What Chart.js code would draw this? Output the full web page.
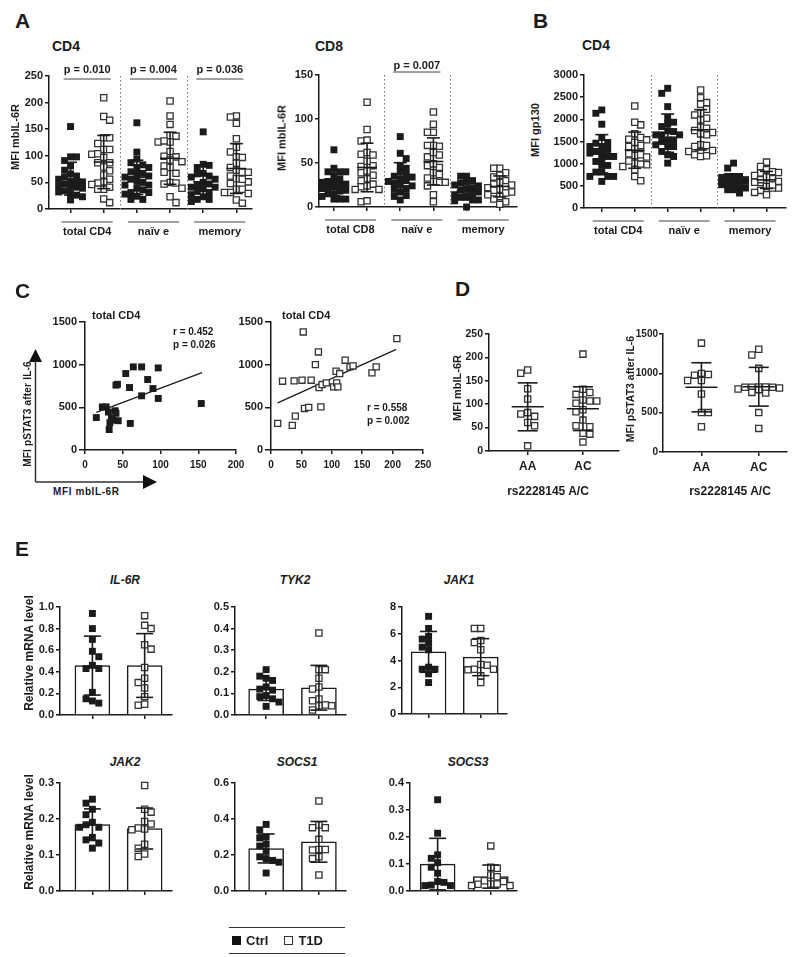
<!DOCTYPE html>
<html>
<head>
<meta charset="utf-8">
<script src="https://cdn.jsdelivr.net/npm/chart.js@4/dist/chart.umd.min.js"></script>
<style>
body { margin: 0; background: #fff; }
#fig { position: relative; width: 800px; height: 957px; overflow: hidden; font-family: "Liberation Sans", Arial, sans-serif; font-weight: bold; color: #1b1b1b; }
#fig canvas { position: absolute; }
.t { position: absolute; white-space: nowrap; line-height: 1; }
.legend { position: absolute; left: 229px; top: 927px; width: 116px; height: 25px; border-top: 1.3px solid #333; border-bottom: 1.3px solid #333; display: flex; align-items: center; font-size: 13px; }
.sq { display: inline-block; width: 9px; height: 9px; box-sizing: border-box; margin: 0 5px 0 3px; }
</style>
</head>
<body>
<div id="fig"></div>
<script>
// ---- panel A: mbIL-6R MFI on CD4 / CD8 subsets (Ctrl, T1D) ----
const cd4TotalCtrl = [155, 98, 98, 91, 81, 73, 66, 62, 60, 56, 51, 50, 47, 44, 42, 39, 34, 32, 29, 26, 23, 17, 41, 51];
const cd4TotalT1D = [209, 174, 167, 134, 134, 123, 112, 112, 103, 104, 97, 87, 87, 79, 72, 64, 56, 51, 49, 46, 37, 37, 41, 19, 12];
const cd4NaiveCtrl = [162, 107, 94, 87, 78, 78, 70, 66, 67, 62, 56, 50, 45, 45, 39, 36, 31, 31, 24, 18, 18, 52, 60, 83, 28];
const cd4NaiveT1D = [203, 175, 159, 138, 137, 126, 126, 128, 108, 99, 98, 92, 89, 81, 78, 69, 67, 50, 49, 47, 39, 23, 12];
const cd4MemCtrl = [145, 84, 82, 78, 67, 66, 62, 56, 50, 45, 41, 41, 33, 31, 23, 18, 18, 14, 47, 38, 27, 60];
const cd4MemT1D = [175, 173, 161, 132, 116, 107, 98, 97, 86, 78, 73, 69, 69, 62, 57, 51, 56, 48, 37, 37, 31, 31, 29, 17, 11];

const cd8TotalCtrl = [65, 40, 40, 40, 35, 44, 29, 28, 28, 25, 23, 21, 19, 18, 15, 15, 9, 9, 9, 32, 22, 12, 26];
const cd8TotalT1D = [119, 88, 75, 76, 60, 62, 59, 47, 46, 39, 36, 32, 26, 23, 24, 20, 20, 6, 7, 52, 30, 41];
const cd8NaiveCtrl = [80, 61, 55, 47, 44, 40, 37, 34, 32, 29, 27, 24, 21, 20, 17, 13, 12, 8, 30, 25, 35];
const cd8NaiveT1D = [108, 94, 85, 85, 69, 70, 70, 59, 57, 47, 45, 49, 39, 37, 28, 29, 28, 24, 14, 6, 62, 33];
const cd8MemCtrl = [35, 35, 30, 28, 25, 27, 22, 20, 17, 15, 14, 11, 11, 8, 8, 7, 0, 19, 24, 12];
const cd8MemT1D = [44, 44, 39, 36, 34, 30, 28, 26, 23, 22, 20, 17, 16, 12, 9, 6, 3, 19, 25, 14];

// ---- panel B: gp130 MFI on CD4 ----
const gpTotalCtrl = [2212, 2137, 1890, 1590, 1462, 1477, 1387, 1387, 1237, 1275, 1237, 1162, 1162, 1050, 960, 960, 810, 810, 712, 712, 712, 600, 1320, 1100];
const gpTotalT1D = [2302, 1875, 1935, 1672, 1590, 1552, 1537, 1387, 1410, 1335, 1185, 1222, 1200, 1012, 975, 990, 937, 862, 712, 615, 1480, 1060, 1150];
const gpNaiveCtrl = [2700, 2587, 2287, 1935, 2040, 1897, 1837, 1725, 1740, 1650, 1650, 1650, 1500, 1537, 1537, 1425, 1387, 1387, 1275, 1200, 1162, 1012];
const gpNaiveT1D = [2662, 2490, 2377, 2340, 2227, 2137, 2100, 2025, 1987, 1822, 1800, 1747, 1702, 1650, 1672, 1425, 1410, 1387, 1297, 1275, 1275, 1200, 1162, 1177];
const gpMemCtrl = [1012, 900, 712, 712, 712, 637, 600, 600, 525, 525, 487, 450, 412, 412, 337, 560, 640, 690, 480, 580, 540, 620];
const gpMemT1D = [1035, 937, 862, 802, 787, 735, 712, 660, 600, 577, 547, 487, 450, 450, 397, 352, 300, 640, 700, 520, 820, 580];

// ---- panel C: mbIL-6R vs pSTAT3 ----
const c1X = [15, 23, 28, 31, 40, 35, 33, 32, 37, 44, 41, 41, 43, 54, 59, 64, 75, 75, 83, 90, 97, 97, 60, 154];
const c1Y = [380, 505, 505, 445, 460, 370, 320, 240, 350, 343, 430, 760, 770, 896, 732, 974, 974, 635, 826, 720, 962, 604, 311, 545];
const c1FitX = [15, 155];
const c1FitY = [440, 908];
const c2X = [11, 19, 35, 40, 38, 51, 53, 55, 62, 66, 73, 78, 82, 79, 84, 91, 103, 107, 108, 110, 113, 122, 130, 135, 166, 173, 207];
const c2Y = [312, 806, 288, 397, 810, 818, 1383, 487, 499, 818, 1001, 1149, 506, 732, 767, 787, 740, 923, 787, 740, 896, 1052, 974, 985, 904, 974, 1305];
const c2FitX = [11, 206];
const c2FitY = [553, 1180];

// ---- panel D: by rs2228145 genotype ----
const genotypes = ['AA', 'AC'];
const dIl6rAA = [173, 166, 133, 111, 82, 74, 79, 61, 54, 11];
const dIl6rAC = [207, 132, 121, 125, 109, 107, 107, 102, 84, 88, 66, 52, 54, 38, 36, 19];
const dStatAA = [1384, 986, 999, 977, 909, 909, 737, 501, 501, 321];
const dStatAC = [1307, 1234, 1063, 827, 801, 823, 823, 823, 750, 758, 793, 814, 827, 501, 300];

// ---- panel E: relative mRNA levels ----
const il6rCtrl = [0.94, 0.80, 0.70, 0.59, 0.54, 0.46, 0.43, 0.43, 0.21, 0.15, 0.11, 0.13];
const il6rT1D = [0.92, 0.80, 0.83, 0.65, 0.61, 0.44, 0.34, 0.30, 0.25, 0.17, 0.09, 0.10];
const tyk2Ctrl = [0.21, 0.18, 0.17, 0.16, 0.13, 0.12, 0.115, 0.09, 0.085, 0.075, 0.06, 0.04];
const tyk2T1D = [0.38, 0.21, 0.21, 0.17, 0.13, 0.12, 0.074, 0.066, 0.046, 0.043, 0.023, 0.043];
const jak1Ctrl = [7.3, 6.4, 5.8, 5.6, 5.3, 5.0, 4.8, 3.5, 3.35, 3.35, 3.0, 2.35];
const jak1T1D = [6.4, 6.4, 5.35, 5.5, 4.8, 3.65, 3.7, 3.35, 3.35, 3.3, 2.85, 2.35];
const jak2Ctrl = [0.255, 0.244, 0.227, 0.212, 0.191, 0.184, 0.177, 0.177, 0.149, 0.142, 0.133, 0.119];
const jak2T1D = [0.293, 0.219, 0.227, 0.193, 0.186, 0.175, 0.172, 0.17, 0.13, 0.119, 0.103, 0.096];
const socs1Ctrl = [0.37, 0.34, 0.30, 0.295, 0.26, 0.25, 0.22, 0.19, 0.18, 0.17, 0.16, 0.10];
const socs1T1D = [0.50, 0.367, 0.352, 0.352, 0.287, 0.231, 0.228, 0.231, 0.19, 0.18, 0.089];
const socs3Ctrl = [0.338, 0.214, 0.134, 0.121, 0.105, 0.088, 0.066, 0.032, 0.035, 0.022, 0.02, 0.02];
const socs3T1D = [0.167, 0.084, 0.088, 0.059, 0.053, 0.035, 0.038, 0.026, 0.02, 0.025, 0.026, 0.02];

const subsetsCD4 = ['total CD4', 'naïv e', 'memory'];
const subsetsCD8 = ['total CD8', 'naïv e', 'memory'];
const pCD4 = ['p = 0.010', 'p = 0.004', 'p = 0.036'];
const pCD8 = ['p = 0.007'];

const INK = '#1b1b1b';
const FONT = '"Liberation Sans", Arial, sans-serif';
Chart.defaults.font.family = FONT;
Chart.defaults.font.weight = 'bold';
Chart.defaults.color = INK;

const fig = document.getElementById('fig');

function mean(a) { return a.reduce((s, v) => s + v, 0) / a.length; }
function sd(a) {
    const m = mean(a);
    return Math.sqrt(a.reduce((s, v) => s + (v - m) * (v - m), 0) / (a.length - 1));
}

// small beeswarm: points at similar heights sit side by side, max K columns each way
function swarm(vals, at, g, size, K) {
    const kx = (g.right - g.axis) / (g.xmax - g.xmin);
    const ky = (g.bottom - g.top) / g.ymax;
    const order = vals.map((v, i) => i).sort((a, b) => vals[b] - vals[a]);
    const placed = [], out = [];
    order.forEach((i, n) => {
        const py = vals[i] * ky, sgn = n % 2 ? -1 : 1;
        let best = 0, bestHits = Infinity;
        search:
        for (let k = 0; k <= K; k++) {
            for (const d of [k * size * sgn, -k * size * sgn]) {
                const hits = placed.filter(p => Math.abs(p.dx - d) < size && Math.abs(p.py - py) < size).length;
                if (hits < bestHits) { bestHits = hits; best = d; }
                if (hits === 0) break search;
            }
        }
        placed.push({ dx: best, py });
        out[i] = { x: at + best / kx, y: vals[i] };
    });
    return out;
}

function dots(vals, at, g, open, stat, spread) {
    const sp = spread || [6, 2];
    return {
        type: 'scatter',
        order: 1,
        clip: false,
        data: swarm(vals, at, g, sp[0], sp[1]),
        pointStyle: 'rect',
        pointRadius: open ? 4.4 : 4.9,
        backgroundColor: open ? '#fff' : INK,
        borderColor: open ? '#333' : INK,
        borderWidth: open ? 1.3 : 0,
        summary: stat ? { vals, at, mw: stat[0], cw: stat[1] } : null
    };
}

function bars(ctrl, t1d) {
    return {
        type: 'bar',
        order: 2,
        data: [{ x: 1, y: mean(ctrl) }, { x: 2, y: mean(t1d) }],
        barThickness: 35,
        backgroundColor: '#fff',
        borderColor: INK,
        borderWidth: 1.5
    };
}

function makeExtras(o) {
    return {
        id: 'extras',
        afterDatasetsDraw(chart) {
            const { ctx, chartArea: a } = chart, x = chart.scales.x, y = chart.scales.y;
            const seg = (x1, y1, x2, y2) => { ctx.beginPath(); ctx.moveTo(x1, y1); ctx.lineTo(x2, y2); ctx.stroke(); };
            ctx.save();
            ctx.lineWidth = 1;
            ctx.strokeStyle = '#777';
            ctx.setLineDash([1.5, 2.5]);
            (o.seps || []).forEach(v => {
                const px = Math.round(x.getPixelForValue(v)) + 0.5;
                seg(px, a.top, px, a.bottom);
            });
            ctx.setLineDash([]);
            ctx.strokeStyle = INK;
            ctx.fillStyle = INK;
            ctx.lineWidth = 1.6;
            chart.data.datasets.forEach(ds => {
                const s = ds.summary;
                if (!s) return;
                const m = mean(s.vals), d = sd(s.vals);
                const cx = x.getPixelForValue(s.at);
                const ym = y.getPixelForValue(m), yt = y.getPixelForValue(m + d), yb = y.getPixelForValue(Math.max(0, m - d));
                seg(cx, yt, cx, yb);
                seg(cx - s.cw / 2, yt, cx + s.cw / 2, yt);
                seg(cx - s.cw / 2, yb, cx + s.cw / 2, yb);
                if (s.mw) seg(cx - s.mw / 2, ym, cx + s.mw / 2, ym);
            });
            ctx.font = 'bold 11px ' + FONT;
            ctx.textAlign = 'center';
            ctx.textBaseline = 'middle';
            ctx.lineWidth = 1.2;
            ctx.strokeStyle = '#444';
            (o.pvals || []).forEach(([p, q, t]) => {
                const ly = a.top + o.pLine, x1 = x.getPixelForValue(p) - 7, x2 = x.getPixelForValue(q) + 7;
                seg(x1, ly, x2, ly);
                ctx.fillText(t, (x1 + x2) / 2, ly + o.pText);
            });
            (o.groups || []).forEach(([p, q, t]) => {
                const ly = a.bottom + 13, x1 = x.getPixelForValue(p) - 9, x2 = x.getPixelForValue(q) + 9;
                seg(x1, ly, x2, ly);
                ctx.fillText(t, (x1 + x2) / 2, a.bottom + 23);
            });
            ctx.restore();
        }
    };
}

function addChart(g, s) {
    const W = s.W || 40, H = s.H || 10, pt = s.padTop || 8, pr = s.padRight || 4;
    const cv = document.createElement('canvas');
    const w = g.right - g.axis + W + pr, h = g.bottom - g.top + pt + H;
    cv.width = w;
    cv.height = h;
    cv.style.left = (g.axis - W) + 'px';
    cv.style.top = (g.top - pt) + 'px';
    cv.style.width = w + 'px';
    cv.style.height = h + 'px';
    fig.appendChild(cv);
    const fix = n => sc => {
        if (sc.isHorizontal()) sc.height = n; else sc.width = n;
        sc.paddingLeft = sc.paddingRight = sc.paddingTop = sc.paddingBottom = 0;
    };
    const border = { color: INK, width: 1.5 };
    const xOpts = {
        type: 'linear', min: g.xmin, max: g.xmax, offset: false,
        afterFit: fix(H), border,
        grid: { drawOnChartArea: false, offset: false, color: INK, lineWidth: 1.5, tickLength: s.xtl || 4 },
        ticks: {
            stepSize: s.xstep, padding: s.xpad || 3, maxRotation: 0, autoSkip: false,
            font: { size: s.xsize || 10, weight: 'bold' }, color: INK,
            callback: s.xfmt || (v => v)
        }
    };
    if (s.xticks) xOpts.afterBuildTicks = sc => { sc.ticks = s.xticks.map(v => ({ value: v })); };
    new Chart(cv, {
        type: s.type || 'scatter',
        data: { datasets: s.datasets },
        options: {
            responsive: false, animation: false, devicePixelRatio: 1, events: [],
            layout: { padding: { top: pt, right: pr, left: 0, bottom: 0 } },
            plugins: { legend: { display: false }, tooltip: { enabled: false } },
            scales: {
                x: xOpts,
                y: {
                    min: 0, max: g.ymax,
                    afterFit: fix(W), border,
                    grid: { drawOnChartArea: false, color: INK, lineWidth: 1.5, tickLength: s.ytl || 4 },
                    ticks: {
                        stepSize: s.ystep, padding: s.ypad || 2,
                        font: { size: s.ysize || 11, weight: 'bold' }, color: INK,
                        callback: s.yfmt || (v => v)
                    }
                }
            }
        },
        plugins: [makeExtras(s.extras || {})]
    });
}

function text(str, x, y, size, o = {}) {
    const d = document.createElement('div');
    d.className = 't';
    d.textContent = str;
    d.style.left = x + 'px';
    d.style.top = y + 'px';
    d.style.fontSize = size + 'px';
    if (o.italic) d.style.fontStyle = 'italic';
    if (o.ls) d.style.letterSpacing = o.ls + 'px';
    const ax = o.rotate || o.center ? '-50%' : '0';
    d.style.transform = 'translate(' + ax + ',-50%)' + (o.rotate ? ' rotate(-90deg)' : '');
    fig.appendChild(d);
}

// ---------- panel A / B ----------
const groupsOf = labels => labels.map((t, i) => [2 * i + 1, 2 * i + 2, t]);
function sixGroups(g, sets) {
    return sets.map((v, i) => dots(v, i + 1, g, i % 2 === 1, [20, 13], [6, 2]));
}

const gCD4 = { axis: 49, right: 253, top: 76, bottom: 209, xmin: 0.35, xmax: 6.45, ymax: 250 };
addChart(gCD4, {
    W: 40, H: 40, padTop: 18, ystep: 50, xticks: [1, 2, 3, 4, 5, 6], xfmt: () => '',
    datasets: sixGroups(gCD4, [cd4TotalCtrl, cd4TotalT1D, cd4NaiveCtrl, cd4NaiveT1D, cd4MemCtrl, cd4MemT1D]),
    extras: { seps: [2.5, 4.5], groups: groupsOf(subsetsCD4), pvals: pCD4.map((t, i) => [2 * i + 1, 2 * i + 2, t]), pLine: 3, pText: -9 }
});

const gCD8 = { axis: 319, right: 518, top: 75, bottom: 207, xmin: 0.55, xmax: 6.5, ymax: 150 };
addChart(gCD8, {
    W: 40, H: 40, padTop: 18, ystep: 50, xticks: [1, 2, 3, 4, 5, 6], xfmt: () => '',
    datasets: sixGroups(gCD8, [cd8TotalCtrl, cd8TotalT1D, cd8NaiveCtrl, cd8NaiveT1D, cd8MemCtrl, cd8MemT1D]),
    extras: { seps: [2.5, 4.5], groups: groupsOf(subsetsCD8), pvals: [[3, 4, pCD8[0]]], pLine: -3, pText: -6 }
});

const gGp = { axis: 584, right: 787, top: 75, bottom: 208, xmin: 0.46, xmax: 6.57, ymax: 3000 };
addChart(gGp, {
    W: 40, H: 40, padTop: 10, ystep: 500, xticks: [1, 2, 3, 4, 5, 6], xfmt: () => '',
    datasets: sixGroups(gGp, [gpTotalCtrl, gpTotalT1D, gpNaiveCtrl, gpNaiveT1D, gpMemCtrl, gpMemT1D]),
    extras: { seps: [2.5, 4.5], groups: groupsOf(subsetsCD4) }
});

// ---------- panel C ----------
function fitLine(xs, ys) {
    return { type: 'line', data: xs.map((v, i) => ({ x: v, y: ys[i] })), borderColor: INK, borderWidth: 1.3, pointRadius: 0, fill: false };
}
function pts(xs, ys, open) {
    return {
        type: 'scatter',
        clip: false,
        data: xs.map((v, i) => ({ x: v, y: ys[i] })),
        pointStyle: 'rect',
        pointRadius: open ? 4.3 : 4.9,
        backgroundColor: open ? '#fff' : INK,
        borderColor: open ? '#333' : INK,
        borderWidth: open ? 1.3 : 0
    };
}
const gC1 = { axis: 85, right: 236, top: 322, bottom: 450, xmin: 0, xmax: 200, ymax: 1500 };
addChart(gC1, {
    W: 36, H: 24, padTop: 8, padRight: 12, xstep: 50, ystep: 500, ytl: 6, xpad: 5,
    datasets: [pts(c1X, c1Y, false), fitLine(c1FitX, c1FitY)]
});
const gC2 = { axis: 271, right: 423, top: 322, bottom: 450, xmin: 0, xmax: 250, ymax: 1500 };
addChart(gC2, {
    W: 36, H: 24, padTop: 8, padRight: 12, xstep: 50, ystep: 500, ytl: 6, xpad: 5,
    datasets: [pts(c2X, c2Y, true), fitLine(c2FitX, c2FitY)]
});

// ---------- panel D ----------
const gD1 = { axis: 489, right: 620, top: 334, bottom: 451, xmin: 0.3, xmax: 2.64, ymax: 250 };
addChart(gD1, {
    W: 40, H: 24, ystep: 50, xticks: [1, 2], xfmt: v => genotypes[v - 1], xsize: 12, xpad: 4, ysize: 10.5,
    datasets: [dots(dIl6rAA, 1, gD1, true, [32, 20], [7, 2]), dots(dIl6rAC, 2, gD1, true, [32, 20], [7, 2])]
});
const gD2 = { axis: 663, right: 788, top: 334, bottom: 452, xmin: 0.33, xmax: 2.48, ymax: 1500 };
addChart(gD2, {
    W: 40, H: 24, ystep: 500, xticks: [1, 2], xfmt: v => genotypes[v - 1], xsize: 12, xpad: 4, ysize: 10, ypad: 1,
    datasets: [dots(dStatAA, 1, gD2, true, [32, 20], [7, 2]), dots(dStatAC, 2, gD2, true, [32, 20], [7, 3])]
});

// ---------- panel E ----------
function mrna(g, ctrl, t1d, step, fmt) {
    addChart(g, {
        type: 'bar', W: 36, H: 10, ystep: step, xticks: [1, 2], xfmt: () => '',
        yfmt: fmt,
        datasets: [bars(ctrl, t1d), dots(ctrl, 1, g, false, [0, 17], [6.5, 2]), dots(t1d, 2, g, true, [0, 17], [6.5, 3])]
    });
}
const f1 = v => v.toFixed(1);
mrna({ axis: 60, right: 173, top: 607, bottom: 715, xmin: 0.38, xmax: 2.51, ymax: 1.0 }, il6rCtrl, il6rT1D, 0.2, f1);
mrna({ axis: 235, right: 347, top: 607, bottom: 715, xmin: 0.41, xmax: 2.5, ymax: 0.5 }, tyk2Ctrl, tyk2T1D, 0.1, f1);
mrna({ axis: 402, right: 508, top: 607, bottom: 714, xmin: 0.49, xmax: 2.49, ymax: 8 }, jak1Ctrl, jak1T1D, 2, v => v);
mrna({ axis: 60, right: 173, top: 783, bottom: 891, xmin: 0.38, xmax: 2.51, ymax: 0.3 }, jak2Ctrl, jak2T1D, 0.1, f1);
mrna({ axis: 235, right: 347, top: 783, bottom: 891, xmin: 0.41, xmax: 2.5, ymax: 0.6 }, socs1Ctrl, socs1T1D, 0.2, f1);
mrna({ axis: 410, right: 518, top: 783, bottom: 891, xmin: 0.48, xmax: 2.48, ymax: 0.4 }, socs3Ctrl, socs3T1D, 0.1, f1);

// ---------- texts ----------
text('A', 15, 20, 21);
text('CD4', 52, 46, 14);
text('CD8', 315, 46, 14);
text('B', 533, 20, 21);
text('CD4', 582, 45, 14);
text('MFI mbIL-6R', 15, 137, 11, { rotate: true });
text('MFI mbIL-6R', 282, 138, 11, { rotate: true });
text('MFI gp130', 535, 130, 11, { rotate: true });

text('C', 15, 290, 21);
text('total CD4', 92, 315, 11);
text('total CD4', 282, 315, 11);
text('r = 0.452', 173, 332, 10);
text('p = 0.026', 173, 345, 10);
text('r = 0.558', 367, 408, 10);
text('p = 0.002', 367, 421, 10);
text('MFI pSTAT3 after IL-6', 28, 414, 10, { rotate: true, ls: 0.2 });
text('MFI mbIL-6R', 53, 492, 10, { ls: 0.6 });

text('D', 455, 288, 21);
text('MFI mbIL-6R', 457, 388, 11, { rotate: true });
text('MFI pSTAT3 after IL-6', 630, 389, 10.5, { rotate: true });
text('rs2228145 A/C', 548, 491, 12, { center: true });
text('rs2228145 A/C', 730, 491, 12, { center: true });

text('E', 15, 548, 21);
text('IL-6R', 125, 580, 12, { center: true, italic: true });
text('TYK2', 295, 580, 12, { center: true, italic: true });
text('JAK1', 459, 580, 12, { center: true, italic: true });
text('JAK2', 125, 762, 12, { center: true, italic: true });
text('SOCS1', 297, 762, 12, { center: true, italic: true });
text('SOCS3', 468, 762, 12, { center: true, italic: true });
text('Relative mRNA level', 29, 653, 12, { rotate: true });
text('Relative mRNA level', 29, 832, 12, { rotate: true });

// arrows of panel C
fig.insertAdjacentHTML('beforeend',
    '<svg width="800" height="957" style="position:absolute;left:0;top:0">' +
    '<g stroke="#333" stroke-width="1.5" fill="none"><path d="M35.5 482 V360 M35.5 482 H143"/></g>' +
    '<g fill="#111"><path d="M35.5 349 L29 362 L42 362 Z"/><path d="M157 482 L143 475 L143 489 Z"/></g>' +
    '</svg>');

// legend
fig.insertAdjacentHTML('beforeend',
    '<div class="legend"><span class="sq" style="background:#111"></span>Ctrl' +
    '<span class="sq" style="border:1.5px solid #333;margin-left:16px"></span>T1D</div>');
</script>
</body>
</html>
